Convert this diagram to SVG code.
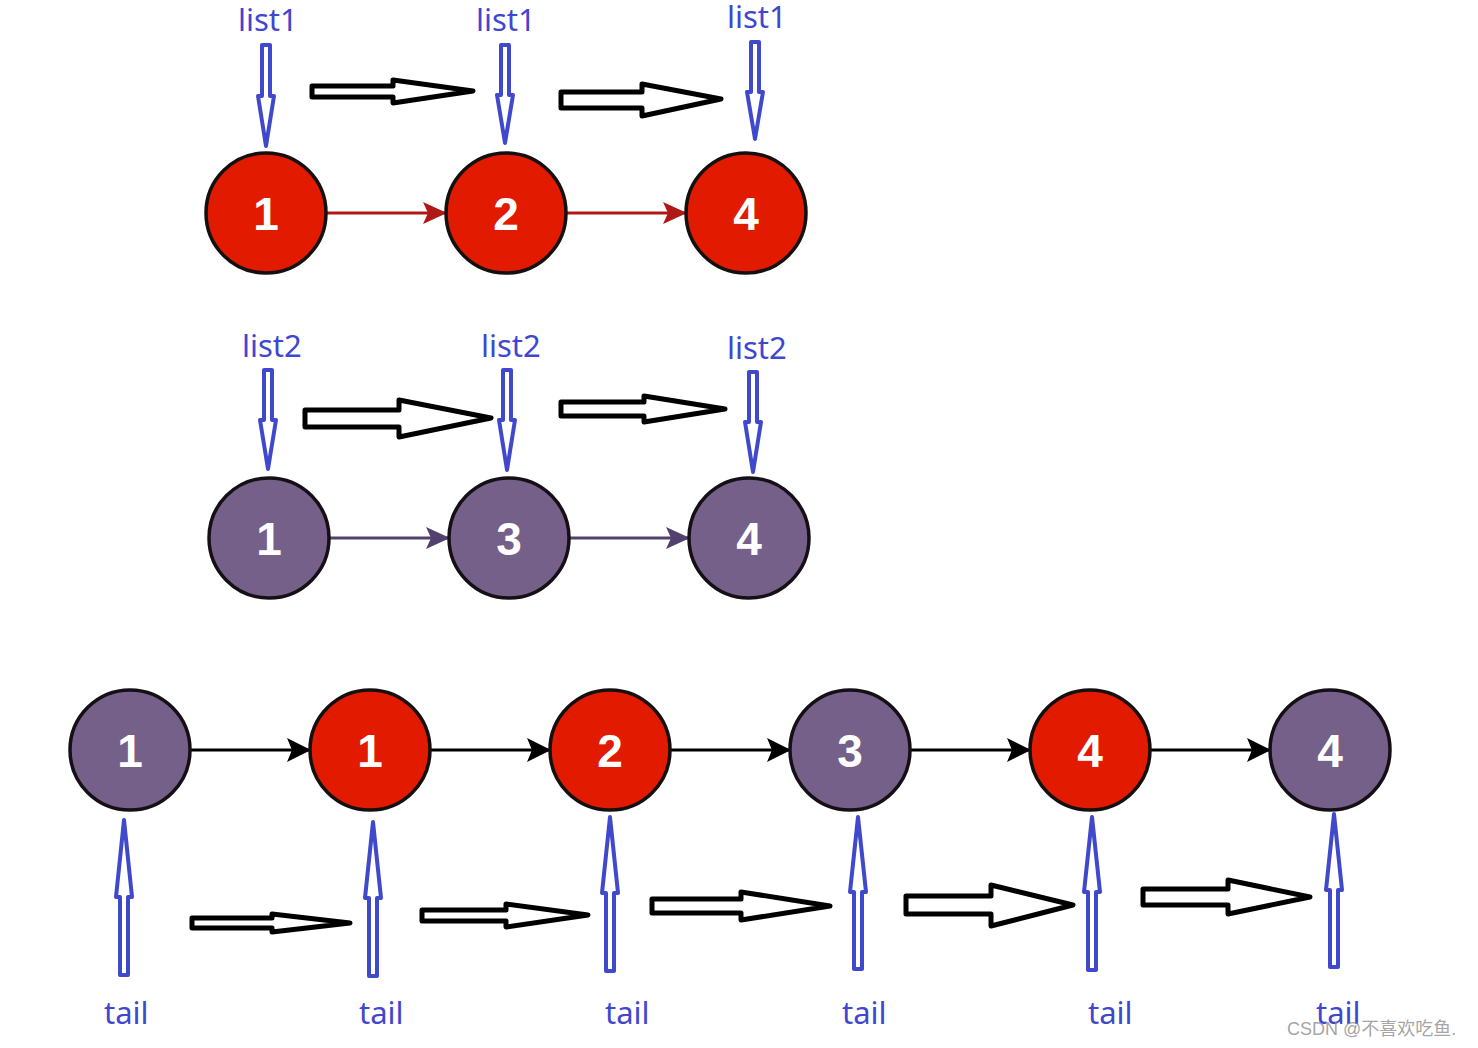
<svg xmlns="http://www.w3.org/2000/svg" width="1478" height="1048" viewBox="0 0 1478 1048">
<style>
.red{fill:#e11a00;stroke:#151010;stroke-width:3.5}
.pur{fill:#75608a;stroke:#151015;stroke-width:3.5}
.num{font-family:"Liberation Sans",Arial,sans-serif;font-weight:bold;font-size:46px;fill:#fff;text-anchor:middle}
.lbl{font-family:"Noto Sans","Open Sans",sans-serif;font-size:31px;fill:#3f47d0}
.blue{fill:#fff;stroke:#4048cc;stroke-width:4;stroke-linejoin:round}
.blk{fill:#fff;stroke:#000;stroke-width:5;stroke-linejoin:round}
.wm{font-family:"Liberation Sans","Noto Sans CJK SC",sans-serif;font-size:18px;fill:#8c8c8c;fill-opacity:0.8}
</style>
<defs>
<marker id="ah-red" viewBox="0 0 24 24" refX="23" refY="12" markerWidth="24" markerHeight="24" markerUnits="userSpaceOnUse" orient="auto"><path d="M0,1 L24,12 L0,23 L5,12 Z" fill="#b01818"/></marker>
<marker id="ah-pur" viewBox="0 0 24 24" refX="23" refY="12" markerWidth="24" markerHeight="24" markerUnits="userSpaceOnUse" orient="auto"><path d="M0,1 L24,12 L0,23 L5,12 Z" fill="#54406e"/></marker>
<marker id="ah-blk" viewBox="0 0 24 24" refX="23" refY="12" markerWidth="24" markerHeight="24" markerUnits="userSpaceOnUse" orient="auto"><path d="M0,0 L24,12 L0,24 L5,12 Z" fill="#000"/></marker>
</defs>
<rect width="1478" height="1048" fill="#fff"/>

<g id="connectors">
<line x1="327" y1="213" x2="446" y2="213" stroke="#b01818" stroke-width="3" marker-end="url(#ah-red)"/>
<line x1="567" y1="213" x2="686" y2="213" stroke="#b01818" stroke-width="3" marker-end="url(#ah-red)"/>
<line x1="330" y1="538" x2="449" y2="538" stroke="#54406e" stroke-width="3" marker-end="url(#ah-pur)"/>
<line x1="570" y1="538" x2="689" y2="538" stroke="#54406e" stroke-width="3" marker-end="url(#ah-pur)"/>
<line x1="191" y1="750" x2="310" y2="750" stroke="#000" stroke-width="3" marker-end="url(#ah-blk)"/>
<line x1="431" y1="750" x2="550" y2="750" stroke="#000" stroke-width="3" marker-end="url(#ah-blk)"/>
<line x1="671" y1="750" x2="790" y2="750" stroke="#000" stroke-width="3" marker-end="url(#ah-blk)"/>
<line x1="911" y1="750" x2="1030" y2="750" stroke="#000" stroke-width="3" marker-end="url(#ah-blk)"/>
<line x1="1151" y1="750" x2="1270" y2="750" stroke="#000" stroke-width="3" marker-end="url(#ah-blk)"/>
</g>

<g id="row1">
<g id="n1a"><circle class="red" cx="266" cy="213" r="60"/><text class="num" x="266" y="230">1</text></g>
<g id="n1b"><circle class="red" cx="506" cy="213" r="60"/><text class="num" x="506" y="230">2</text></g>
<g id="n1c"><circle class="red" cx="746" cy="213" r="60"/><text class="num" x="746" y="230">4</text></g>
</g>
<g id="row2">
<g id="n2a"><circle class="pur" cx="269" cy="538" r="60"/><text class="num" x="269" y="555">1</text></g>
<g id="n2b"><circle class="pur" cx="509" cy="538" r="60"/><text class="num" x="509" y="555">3</text></g>
<g id="n2c"><circle class="pur" cx="749" cy="538" r="60"/><text class="num" x="749" y="555">4</text></g>
</g>
<g id="row3">
<g id="n3a"><circle class="pur" cx="130" cy="750" r="60"/><text class="num" x="130" y="767">1</text></g>
<g id="n3b"><circle class="red" cx="370" cy="750" r="60"/><text class="num" x="370" y="767">1</text></g>
<g id="n3c"><circle class="red" cx="610" cy="750" r="60"/><text class="num" x="610" y="767">2</text></g>
<g id="n3d"><circle class="pur" cx="850" cy="750" r="60"/><text class="num" x="850" y="767">3</text></g>
<g id="n3e"><circle class="red" cx="1090" cy="750" r="60"/><text class="num" x="1090" y="767">4</text></g>
<g id="n3f"><circle class="pur" cx="1330" cy="750" r="60"/><text class="num" x="1330" y="767">4</text></g>
</g>

<g id="pointers-list1">
<text class="lbl" x="238" y="31">list1</text>
<text class="lbl" x="476" y="31">list1</text>
<text class="lbl" x="727" y="28">list1</text>
<polygon class="blue" points="262,45 270,45 270,96 274,96 266,146 258,96 262,96"/>
<polygon class="blue" points="501,45 509,45 509,95 513,95 505,143 497,95 501,95"/>
<polygon class="blue" points="751,42 759,42 759,92 763,92 755,139 747,92 751,92"/>
<polygon class="blk" points="312,86 393,86 393,80 473,91 393,103 393,97 312,97"/>
<polygon class="blk" points="561,92 642,92 642,84 721,99 642,116 642,108 561,108"/>
</g>

<g id="pointers-list2">
<text class="lbl" x="242" y="357">list2</text>
<text class="lbl" x="481" y="357">list2</text>
<text class="lbl" x="727" y="359">list2</text>
<polygon class="blue" points="264,370 272,370 272,420 276,420 268,469 260,420 264,420"/>
<polygon class="blue" points="503,370 511,370 511,420 515,420 507,470 499,420 503,420"/>
<polygon class="blue" points="749,372 757,372 757,422 761,422 753,472 745,422 749,422"/>
<polygon class="blk" points="305,410 399,410 399,400 491,418 399,437 399,427 305,427"/>
<polygon class="blk" points="561,402 644,402 644,396 725,409 644,422 644,416 561,416"/>
</g>

<g id="pointers-tail">
<polygon class="blue" points="120,975 128,975 128,897 132,897 124,820 116,897 120,897"/>
<polygon class="blue" points="369,976 377,976 377,898 381,898 373,822 365,898 369,898"/>
<polygon class="blue" points="606,971 614,971 614,893 618,893 610,817 602,893 606,893"/>
<polygon class="blue" points="854,969 862,969 862,892 866,892 858,817 850,892 854,892"/>
<polygon class="blue" points="1088,970 1096,970 1096,892 1100,892 1092,817 1084,892 1088,892"/>
<polygon class="blue" points="1330,967 1338,967 1338,890 1342,890 1334,814 1326,890 1330,890"/>
<polygon class="blk" points="192,918 272,918 272,914 350,923 272,932 272,928 192,928"/>
<polygon class="blk" points="422,910 506,910 506,904 588,915 506,927 506,921 422,921"/>
<polygon class="blk" points="652,899 741,899 741,892 830,906 741,920 741,913 652,913"/>
<polygon class="blk" points="906,896 991,896 991,885 1073,905 991,926 991,914 906,914"/>
<polygon class="blk" points="1143,889 1228,889 1228,880 1310,897 1228,914 1228,905 1143,905"/>
<text class="lbl" x="104" y="1024">tail</text>
<text class="lbl" x="359" y="1024">tail</text>
<text class="lbl" x="605" y="1024">tail</text>
<text class="lbl" x="842" y="1024">tail</text>
<text class="lbl" x="1088" y="1024">tail</text>
<text class="lbl" x="1316" y="1024">tail</text>
</g>
<text class="wm" x="1287" y="1035">CSDN @不喜欢吃鱼.</text>
</svg>
